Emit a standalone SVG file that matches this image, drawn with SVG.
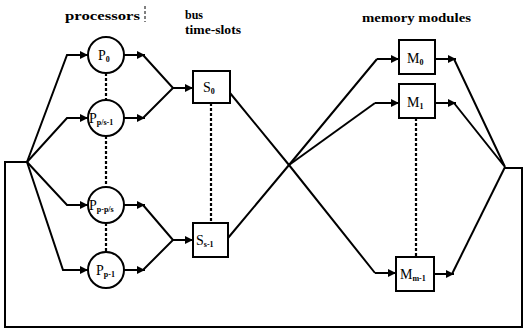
<svg xmlns="http://www.w3.org/2000/svg" width="524" height="333" viewBox="0 0 524 333">
<defs>
<marker id="ah" viewBox="0 0 10 10" refX="10" refY="5" markerWidth="4" markerHeight="4" markerUnits="strokeWidth" orient="auto">
<path d="M0,0 L10,5 L0,10 Z" fill="#000"/>
</marker>
<style>
.ln{fill:none;stroke:#000;stroke-width:2;stroke-linejoin:miter}
.ar{fill:none;stroke:#000;stroke-width:2;marker-end:url(#ah)}
.dot{fill:none;stroke:#000;stroke-width:2.2;stroke-dasharray:3 2}
.nd{fill:#fff;stroke:#000;stroke-width:2}
.hd{font-family:"Liberation Serif","DejaVu Serif",serif;font-size:12px;font-weight:bold;fill:#000}
.lb{font-family:"Liberation Serif","DejaVu Serif",serif;font-size:14px;fill:#000}
.sb{font-size:8px;font-weight:bold}
</style>
</defs>
<rect width="524" height="333" fill="#fff"/>
<g id="headings">
<text class="hd" x="65" y="20" textLength="75" lengthAdjust="spacingAndGlyphs">processors</text>
<line x1="145" y1="6" x2="145" y2="22" stroke="#000" stroke-width="1" stroke-dasharray="3 2"/>
<text class="hd" x="185" y="19">bus</text>
<text class="hd" x="185" y="34" textLength="56" lengthAdjust="spacingAndGlyphs">time-slots</text>
<text class="hd" x="362" y="22" textLength="109" lengthAdjust="spacingAndGlyphs">memory modules</text>
</g>
<g id="connectors">
<path class="ln" d="M27,162 H5 V327 H522 V168 H505"/>
<path class="ar" d="M27,162 L67,55 H88"/>
<path class="ar" d="M27,162 L67,118 H88"/>
<path class="ar" d="M27,162 L67,205 H88"/>
<path class="ar" d="M27,162 L63,270 H88"/>
<path class="ar" d="M124,55 H145"/>
<path class="ar" d="M124,118 H145"/>
<path class="ar" d="M124,205 H145"/>
<path class="ar" d="M124,270 H145"/>
<path class="ln" d="M143,55 L173,88 L143,118"/>
<path class="ar" d="M173,88 H193"/>
<path class="ln" d="M143,205 L173,240 L143,270"/>
<path class="ar" d="M173,240 H193"/>
<path class="ln" d="M230,93 L289,165 L375,273"/>
<path class="ar" d="M375,273 H396"/>
<path class="ln" d="M228,238 L289,165 L377,59"/>
<path class="ar" d="M377,59 H399"/>
<path class="ln" d="M289,165 L375,103"/>
<path class="ar" d="M375,103 H399"/>
<path class="ar" d="M435,59 H456"/>
<path class="ar" d="M435,103 H456"/>
<path class="ar" d="M434,274 H454"/>
<path class="ln" d="M454,59 L505,167 L454,103"/>
<path class="ln" d="M452,274 L505,167"/>
<path class="dot" d="M106,73 V100"/>
<path class="dot" d="M106,136 V187"/>
<path class="dot" d="M106,223 V252"/>
<path class="dot" d="M211,103 V223"/>
<path class="dot" d="M416,118 V257"/>
</g>
<g id="P0">
<circle class="nd" cx="106" cy="55" r="18"/>
<text class="lb" x="98" y="60">P<tspan class="sb" dy="2">0</tspan></text>
</g>
<g id="Pps1">
<circle class="nd" cx="106" cy="118" r="18"/>
<text class="lb" x="89" y="123">P<tspan class="sb" dy="2">p/s-1</tspan></text>
</g>
<g id="Ppps">
<circle class="nd" cx="106" cy="205" r="18"/>
<text class="lb" x="89" y="210">P<tspan class="sb" dy="2">p-p/s</tspan></text>
</g>
<g id="Pp1">
<circle class="nd" cx="106" cy="270" r="18"/>
<text class="lb" x="96" y="275">P<tspan class="sb" dy="2">p-1</tspan></text>
</g>
<g id="S0">
<rect class="nd" x="193" y="71" width="37" height="32"/>
<text class="lb" x="203" y="92">S<tspan class="sb" dy="2">0</tspan></text>
</g>
<g id="Ss1">
<rect class="nd" x="193" y="223" width="35" height="34"/>
<text class="lb" x="196" y="245">S<tspan class="sb" dy="2">s-1</tspan></text>
</g>
<g id="M0">
<rect class="nd" x="399" y="40" width="36" height="34"/>
<text class="lb" x="407" y="63" font-size="13">M<tspan class="sb" dy="2">0</tspan></text>
</g>
<g id="M1">
<rect class="nd" x="399" y="84" width="36" height="34"/>
<text class="lb" x="407" y="107" font-size="13">M<tspan class="sb" dy="2">1</tspan></text>
</g>
<g id="Mm1">
<rect class="nd" x="396" y="257" width="38" height="34"/>
<text class="lb" x="400" y="279" font-size="13">M<tspan class="sb" dy="2">m-1</tspan></text>
</g>
</svg>
